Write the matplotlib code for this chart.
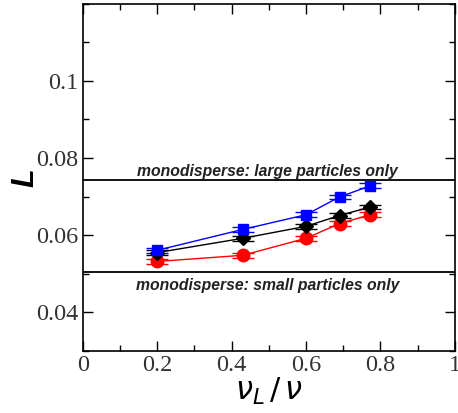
import numpy as np
import matplotlib
matplotlib.use("Agg")
from matplotlib import pyplot as plt
from matplotlib.ticker import MultipleLocator

# fraction of large particles
x = [0.2, 0.43, 0.6, 0.69, 0.773]

L_blue = [0.0561, 0.0615, 0.0653, 0.0699, 0.0728]
L_black = [0.0555, 0.0592, 0.0623, 0.0651, 0.0673]
L_red = [0.0532, 0.0548, 0.0592, 0.0630, 0.0653]
err = [0.0006, 0.0006, 0.0006, 0.0006, 0.0006]

L_large = 0.0742
L_small = 0.0506

fig = plt.figure(figsize=(4.58, 4.13), dpi=100)
ax = fig.add_axes([0.181, 0.150, 0.812, 0.8415])

ax.axhline(L_large, color="black", lw=1.3)
ax.axhline(L_small, color="black", lw=1.3)

ax.errorbar(x, L_red, yerr=err, color="red", marker="o", ms=9, lw=1,
            capsize=8, elinewidth=1, capthick=1)
ax.errorbar(x, L_black, yerr=err, color="black", marker="D", ms=7.5, lw=1,
            capsize=8, elinewidth=1, capthick=1)
ax.errorbar(x, L_blue, yerr=err, color="blue", marker="s", ms=7.5, lw=1,
            capsize=8, elinewidth=1, capthick=1)

txt = dict(fontsize=11.3, fontweight="bold", style="italic", color="#222222",
           family="Liberation Sans", ha="center", va="center")
ax.text(0.497, 0.0765, "monodisperse: large particles only", **txt)
ax.text(0.497, 0.0470, "monodisperse: small particles only", **txt)

ax.set_xlim(0, 1)
ax.set_ylim(0.03, 0.12)
ax.xaxis.set_minor_locator(MultipleLocator(0.1))
ax.yaxis.set_minor_locator(MultipleLocator(0.01))
ax.set_xticks([0, 0.2, 0.4, 0.6, 0.8, 1.0])
ax.set_xticklabels(["0", "0.2", "0.4", "0.6", "0.8", "1"])
ax.set_yticks([0.04, 0.06, 0.08, 0.1])
ax.set_yticklabels(["0.04", "0.06", "0.08", "0.1"])
ax.tick_params(which="both", direction="in", top=True, right=True)
ax.tick_params(which="major", length=7, width=1, pad=3)
ax.tick_params(which="minor", length=4, width=1)
for lab in ax.get_xticklabels() + ax.get_yticklabels():
    lab.set_family("Liberation Serif")
    lab.set_fontsize(17.5)
    lab.set_color("#333333")
for s in ax.spines.values():
    s.set_linewidth(1.2)

ax.set_ylabel("L", fontsize=22, fontweight="bold", style="italic",
              family="Liberation Sans", labelpad=-3)
ax.set_xlabel(r"$\nu_L\,/\,\nu$", fontsize=22, labelpad=0)

fig.savefig("out.png", dpi=100)
